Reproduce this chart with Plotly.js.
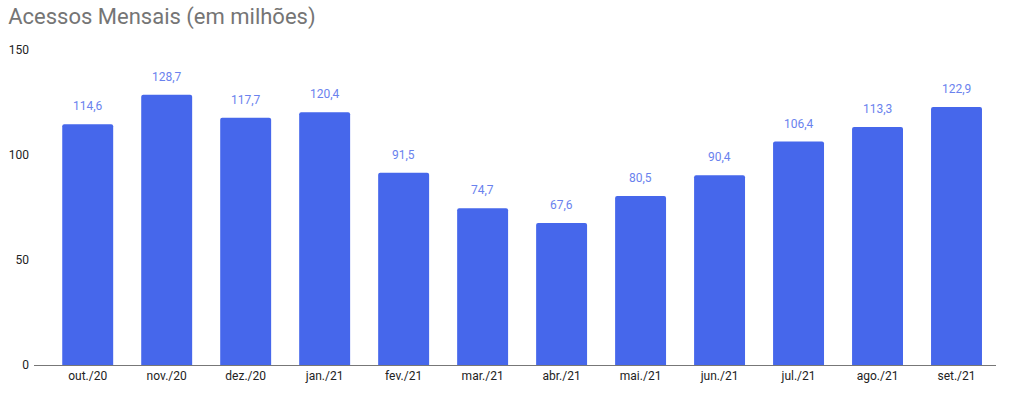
<!DOCTYPE html>
<html><head><meta charset="utf-8">
<script src="https://cdn.plot.ly/plotly-3.0.1.min.js"></script>
<style>html,body{margin:0;padding:0;background:#fff}#c{width:1024px;height:399px}</style>
</head><body><div id="c"></div>
<script>
const months = ["out./20","nov./20","dez./20","jan./21","fev./21","mar./21","abr./21","mai./21","jun./21","jul./21","ago./21","set./21"];
const acessos = [114.6,128.7,117.7,120.4,91.5,74.7,67.6,80.5,90.4,106.4,113.3,122.9];
const yTicks = [0,50,100,150];

const fmt = v => v.toFixed(1).replace('.', ',');

const trace = {
  type: 'bar', x: months, y: acessos,
  marker: {color: '#4667eb', cornerradius: 2},
  width: 0.645, hoverinfo: 'skip'
};
const annotations = months.map((m, i) => ({
  x: m, y: acessos[i], xref: 'x', yref: 'y', text: fmt(acessos[i]),
  showarrow: false, yanchor: 'bottom', yshift: 9,
  font: {family: 'Roboto', size: 12, color: '#6a82ee'}
}));

const layout = {
  width: 1024, height: 399,
  margin: {l: 34, r: 28, t: 50, b: 34},
  paper_bgcolor: '#fff', plot_bgcolor: '#fff',
  separators: ', ',
  title: {text: 'Acessos Mensais (em milhões)', x: 0.008, xanchor: 'left', y: 0.958, yanchor: 'middle',
    font: {family: 'Roboto', size: 22, color: '#757575'}},
  xaxis: {type: 'category', range: [-0.68, 11.5], showline: true, linecolor: '#777', linewidth: 1,
    showgrid: false, ticks: '', tickfont: {family: 'Roboto', size: 12, color: '#222'}, fixedrange: true},
  yaxis: {range: [0, 150], tickvals: yTicks, ticktext: yTicks.map(String), showgrid: false, zeroline: false,
    showline: false, ticks: '', ticklabelstandoff: 4, tickfont: {family: 'Roboto', size: 12, color: '#222'}, fixedrange: true},
  annotations: annotations,
  showlegend: false
};
Plotly.newPlot('c', [trace], layout, {staticPlot: true, displayModeBar: false});
</script></body></html>
